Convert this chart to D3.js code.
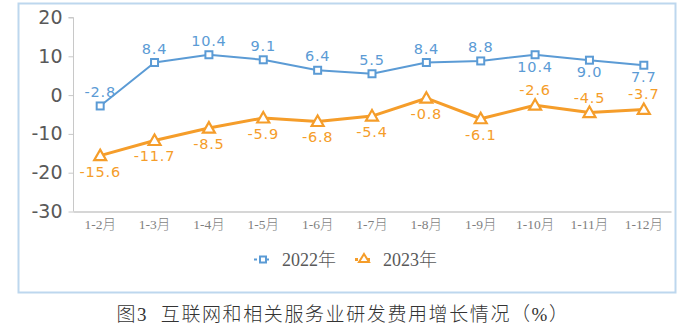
<!DOCTYPE html>
<html>
<head>
<meta charset="utf-8">
<script src="https://cdn.jsdelivr.net/npm/d3@7/dist/d3.min.js"></script>
<style>
  html, body { margin: 0; padding: 0; background: #fff; }
  svg { display: block; }
</style>
</head>
<body>
<script>
// Cumulative R&D expense growth, internet & related services (%)
const categories = ["1-2月", "1-3月", "1-4月", "1-5月", "1-6月", "1-7月", "1-8月", "1-9月", "1-10月", "1-11月", "1-12月"];
const values2022 = [-2.8, 8.4, 10.4, 9.1, 6.4, 5.5, 8.4, 8.8, 10.4, 9.0, 7.7];
const values2023 = [-15.6, -11.7, -8.5, -5.9, -6.8, -5.4, -0.8, -6.1, -2.6, -4.5, -3.7];
const yTicks = [20, 10, 0, -10, -20, -30];
const seriesNames = ["2022年", "2023年"];
// label placement per point: true = above the marker
const above2022 = [true, true, true, true, true, true, true, true, false, false, false];
const above2023 = [false, false, false, false, false, false, false, false, true, true, true];

const W = 679, H = 332;
const blue = "#5b9bd5", orange = "#f59d2a";
const numFont = "'DejaVu Sans', Verdana, sans-serif";
const cjkFont = "'Liberation Serif', 'Noto Sans CJK SC', serif";

const svg = d3.select("body").append("svg").attr("width", W).attr("height", H);

// outer frame
svg.append("rect").attr("x", 18.5).attr("y", 3.5).attr("width", 657).attr("height", 289)
  .attr("fill", "#fff").attr("stroke", "#bdd7ee").attr("stroke-width", 2);

const x = d3.scaleBand().domain(categories).range([73, 671]);
const y = d3.scaleLinear().domain([-30, 20]).range([211.5, 17.5]);

// plain hyphen for negatives
const fmt = v => String(v);

// y axis
const yAxis = d3.axisLeft(y).tickValues(yTicks).tickSize(5).tickPadding(6).tickFormat(fmt);
const gy = svg.append("g").attr("transform", "translate(73.5,0)").call(yAxis);
gy.select(".domain").attr("stroke", "#c8c8c8").attr("d", `M-5,${y(20)}H0V${y(-30)}`);
gy.selectAll(".tick line").attr("stroke", "#c8c8c8");
gy.selectAll(".tick text").attr("fill", "#595959")
  .style("font-family", numFont).style("font-size", "19px");

// x axis
const xAxis = d3.axisBottom(x).tickSize(0).tickPadding(8);
const gx = svg.append("g").attr("transform", `translate(0,${y(-30)})`).call(xAxis);
gx.select(".domain").attr("stroke", "#c8c8c8").attr("stroke-width", 1.5);
gx.selectAll(".tick text").attr("fill", "#7f7f7f")
  .style("font-family", cjkFont).style("font-size", "13.5px").style("font-weight", 300);

const cx = c => x(c) + x.bandwidth() / 2;
const line = d3.line().x(d => cx(d.c)).y(d => y(d.v));

function drawMarker(g, shape, px, py, color) {
  if (shape === "square") {
    g.append("rect").attr("x", px - 3.5).attr("y", py - 3.5).attr("width", 7).attr("height", 7)
      .attr("fill", "#fff").attr("stroke", color).attr("stroke-width", 2);
  } else {
    const s = 6;
    g.append("path")
      .attr("d", `M${px},${py - s}L${px + s},${py + s * 0.75}L${px - s},${py + s * 0.75}Z`)
      .attr("fill", "#fff").attr("stroke", color).attr("stroke-width", 2.2).attr("stroke-linejoin", "miter");
  }
}

function drawSeries(vals, aboveFlags, color, width, shape, aboveOff, belowOff) {
  const data = vals.map((v, i) => ({ c: categories[i], v, up: aboveFlags[i] }));
  svg.append("path").datum(data).attr("d", line)
    .attr("fill", "none").attr("stroke", color).attr("stroke-width", width).attr("stroke-linejoin", "round");
  const g = svg.append("g");
  data.forEach(d => drawMarker(g, shape, cx(d.c), y(d.v), color));
  svg.append("g").selectAll("text").data(data).join("text")
    .attr("x", d => cx(d.c))
    .attr("y", d => y(d.v) + (d.up ? aboveOff : belowOff))
    .attr("text-anchor", "middle")
    .attr("fill", color)
    .style("font-family", numFont)
    .style("font-size", "14.5px")
    .style("letter-spacing", "0.8px")
    .text(d => d.v.toFixed(1));
}

drawSeries(values2022, above2022, blue, 2, "square", -9, 17);
drawSeries(values2023, above2023, orange, 3, "triangle", -10, 21);

// legend
const legend = [
  { name: seriesNames[0], color: blue, shape: "square", x: 263, w: 2 },
  { name: seriesNames[1], color: orange, shape: "triangle", x: 364, w: 3 }
];
const lg = svg.append("g");
legend.forEach(l => {
  lg.append("line").attr("x1", l.x - 9).attr("x2", l.x + 9).attr("y1", 259.5).attr("y2", 259.5)
    .attr("stroke", l.color).attr("stroke-width", l.w).attr("stroke-dasharray", "3,3");
  if (l.shape === "square") {
    lg.append("rect").attr("x", l.x - 3).attr("y", 256.5).attr("width", 6).attr("height", 6)
      .attr("fill", "#fff").attr("stroke", l.color).attr("stroke-width", 2);
  } else {
    lg.append("path").attr("d", `M${l.x},${254}L${l.x + 5},${262}L${l.x - 5},${262}Z`)
      .attr("fill", "#fff").attr("stroke", l.color).attr("stroke-width", 2);
  }
  lg.append("text").attr("x", l.x + 19).attr("y", 265.5)
    .attr("fill", "#595959")
    .style("font-family", cjkFont).style("font-size", "18px").style("font-weight", 300)
    .text(l.name);
});

// caption
svg.append("text").attr("x", 343).attr("y", 321).attr("text-anchor", "middle")
  .attr("fill", "#333")
  .style("font-family", cjkFont).style("font-size", "19px").style("font-weight", 300)
  .style("letter-spacing", "1.6px").style("white-space", "pre")
  .text("图3  互联网和相关服务业研发费用增长情况（%）");
</script>
</body>
</html>
